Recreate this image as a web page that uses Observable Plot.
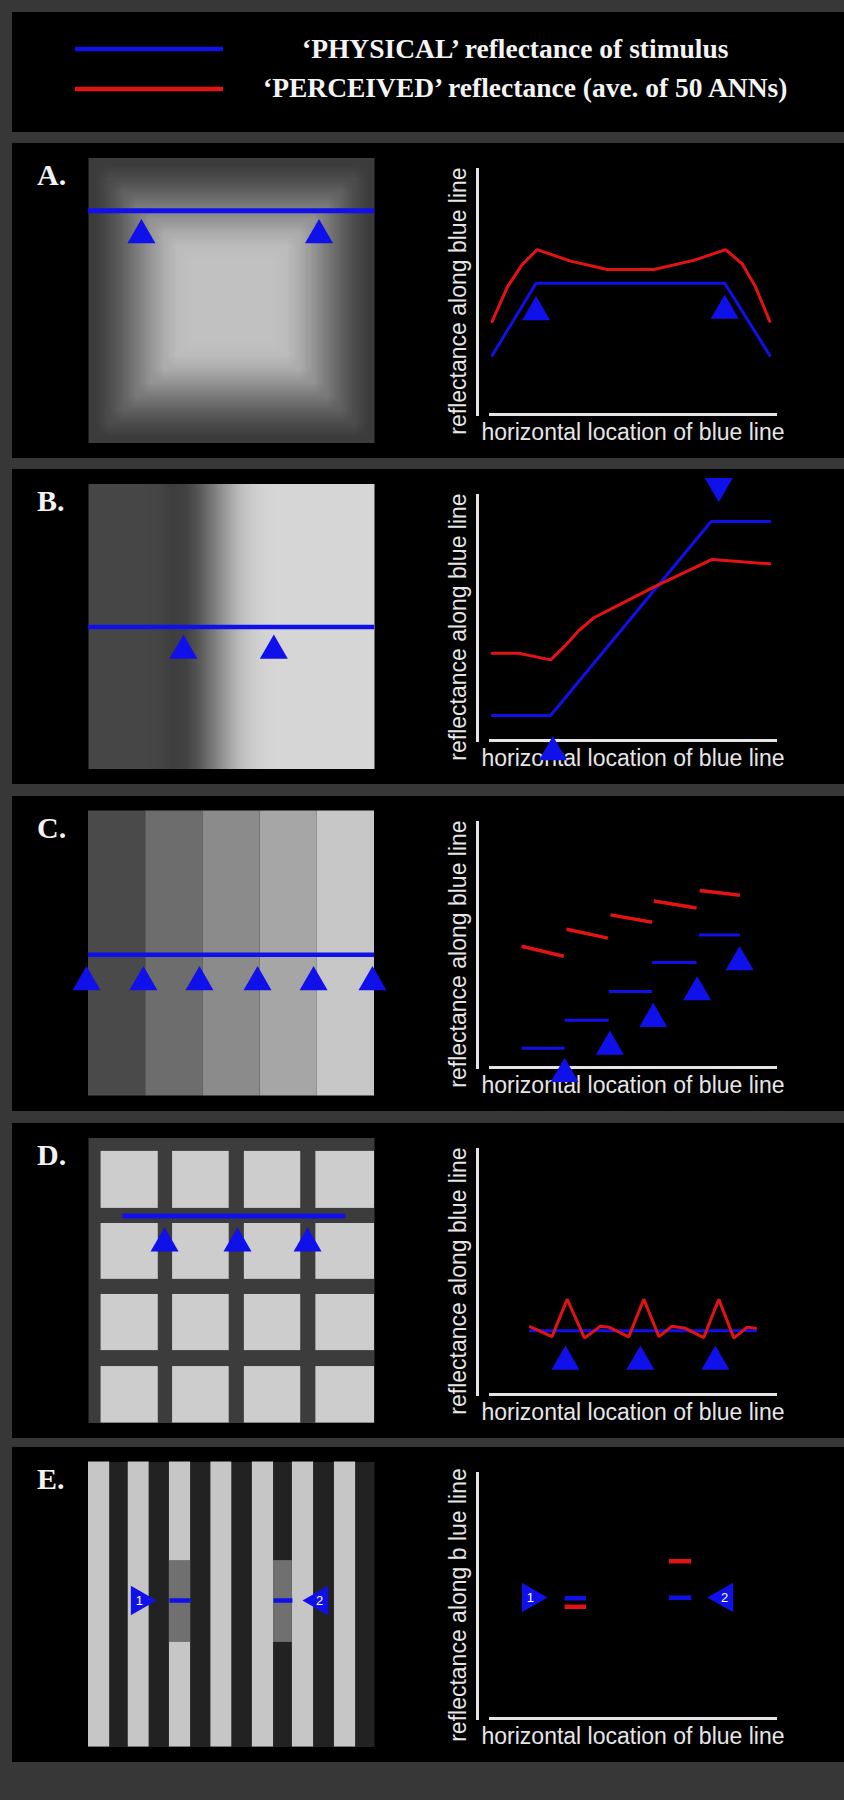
<!DOCTYPE html>
<html><head><meta charset="utf-8">
<script src="https://cdn.jsdelivr.net/npm/d3@7"></script>
<script src="https://cdn.jsdelivr.net/npm/@observablehq/plot@0.6"></script>
<style>
html,body{margin:0;padding:0;background:#373737;}
#root{position:relative;width:844px;height:1800px;background:#373737;overflow:hidden;}
#root svg{max-width:none;}
</style></head><body><div id="root"></div>
<script>
// ---------- text ----------
const headerLines = ["‘PHYSICAL’ reflectance of stimulus", "‘PERCEIVED’ reflectance (ave. of 50 ANNs)"];
const panelLetters = ["A.", "B.", "C.", "D.", "E."];
const yLabels = ["reflectance along blue line", "reflectance along blue line", "reflectance along blue line", "reflectance along blue line", "reflectance along b lue line"];
const xLabel = "horizontal location of blue line";

// ---------- chart A ----------
const aPhysX = [0.6, 16.0, 82.2, 98.0];
const aPhysY = [24.1, 53.6, 53.6, 24.1];
const aPercX = [0.6, 5.9, 11.1, 16.4, 28.1, 41.0, 57.3, 71.3, 82.5, 88.3, 93.0, 98.0];
const aPercY = [38.0, 52.0, 61.2, 67.3, 62.6, 59.2, 59.2, 62.9, 67.3, 61.5, 52.0, 38.0];
const aMarkX = [16.0, 82.2];
const aMarkY = [41.8, 42.4];
// ---------- chart B ----------
const bPhysX = [0.6, 21.1, 77.4, 98.0];
const bPhysY = [10.2, 10.2, 89.4, 89.4];
const bPercX = [0.6, 9.9, 21.1, 26.3, 31.0, 36.3, 46.8, 58.5, 77.8, 98.0];
const bPercY = [35.6, 35.6, 32.9, 38.8, 44.9, 50.1, 56.4, 63.3, 73.9, 72.1];
const bMarkUpX = [21.9], bMarkUpY = [-4.8];
const bMarkDownX = [80.1], bMarkDownY = [103.8];
// ---------- chart C ----------
const cPhysX1 = [10.9, 26.0, 41.5, 56.7, 73.1];
const cPhysX2 = [26.0, 41.5, 56.7, 72.3, 87.5];
const cPhysY  = [7.9, 19.3, 31.0, 42.9, 54.1];
const cPercX1 = [10.9, 26.7, 42.1, 57.3, 73.4];
const cPercY1 = [49.5, 56.4, 62.3, 68.0, 72.2];
const cPercX2 = [25.7, 41.2, 56.7, 72.3, 87.5];
const cPercY2 = [45.4, 52.8, 59.3, 65.1, 70.3];
const cMarkX = [26.0, 41.9, 57.1, 72.5, 87.4];
const cMarkY = [-2.6, 8.5, 19.8, 30.7, 43.0];
// ---------- chart D ----------
const dPhysX = [14.0, 93.0];
const dPhysY = [26.0, 26.0];
const dPercX = [14.0, 21.6, 26.9, 33.0, 38.6, 41.5, 48.5, 53.8, 59.1, 63.7, 68.4, 74.8, 80.1, 85.4, 90.1, 93.0];
const dPercY = [27.6, 23.6, 38.9, 23.0, 27.9, 27.5, 23.5, 38.9, 23.6, 27.9, 27.0, 23.2, 38.9, 23.0, 27.5, 27.0];
const dMarkX = [26.3, 52.6, 78.9];
const dMarkY = [13.4, 13.4, 13.4];
// ---------- chart E ----------
const ePhysX1 = [26.0, 62.6], ePhysX2 = [33.5, 70.4], ePhysY = [49.1, 49.3];
const ePercX1 = [26.0, 62.6], ePercX2 = [33.5, 70.4], ePercY = [45.6, 64.2];
const eMarkX = [14.0, 82.1], eMarkY = [49.4, 49.4], eMarkLabel = ["1", "2"], eMarkDir = ["right", "left"];

// ---------- stimuli (0–100 units across the square) ----------
const aRingGray = [60, 76, 98, 122, 148, 172, 188, 193, 193, 193, 193];
const aLineY = 18.5, aStimMarkX = [18.5, 80.6], aStimMarkY = [27.1, 27.1];
const bColumnGray = [70, 70, 70, 70, 70, 68, 62, 66, 88, 120, 155, 185, 203, 212, 214, 214, 214, 214, 214, 214, 214, 214];
const bLineY = 50.2, bStimMarkX = [33.2, 64.8], bStimMarkY = [58.5, 58.5];
const cStripeEdges = [0, 20, 40, 60, 80, 100];
const cStripeGray = [74, 109, 139, 166, 199];
const cLineY = 50.4, cStimMarkX = [-0.7, 19.2, 38.8, 59.1, 78.7, 99.3], cStimMarkY = 60.1;
const dCols = [[4.4, 24.4], [29.4, 49.2], [54.5, 74.2], [79.5, 100]];
const dRows = [[4.7, 24.7], [30.0, 49.6], [54.9, 74.6], [80.2, 100]];
const dLineX1 = 12.1, dLineX2 = 90.0, dLineY = 27.4;
const dStimMarkX = [26.6, 52.1, 76.6], dStimMarkY = 37.0;
const eBars = [[0, 7.4], [13.9, 21.2], [28.3, 35.7], [42.8, 50.1], [57.3, 64.7], [71.3, 78.7], [86, 93.4]];
const ePatches = [[28.3, 35.7], [64.7, 71.3]], ePatchY = [34.6, 63.3];
const eDashY = 48.6;
const eStimMarkX = [17.8, 80.8], eStimMarkY = 48.6;

// ---------- layout ----------
const panelTops = [143, 469, 796, 1123, 1447];
const BLUE = "#1010ea", RED = "#e31313", AXIS = "#e4e4e4", LABEL = "#e6e6e6";
const SANS = "Liberation Sans, Arial, sans-serif";
const SERIF = "Liberation Serif, Times New Roman, serif";
const gray = v => `rgb(${v},${v},${v})`;
const sq3 = Math.sqrt(3);
const triDown = {draw(c, s) { const y = Math.sqrt(s / (3 * sq3)); c.moveTo(0, 2 * y); c.lineTo(-sq3 * y, -y); c.lineTo(sq3 * y, -y); c.closePath(); }};
const triRight = {draw(c, s) { const y = Math.sqrt(s / (3 * sq3)); c.moveTo(2 * y, 0); c.lineTo(-y, -sq3 * y); c.lineTo(-y, sq3 * y); c.closePath(); }};
const triLeft = {draw(c, s) { const y = Math.sqrt(s / (3 * sq3)); c.moveTo(-2 * y, 0); c.lineTo(y, -sq3 * y); c.lineTo(y, sq3 * y); c.closePath(); }};
const R = 10.4;

const root = document.getElementById("root");
function place(node, left, top) { node.style.position = "absolute"; node.style.left = left + "px"; node.style.top = top + "px"; root.appendChild(node); }
function box(left, top, w, h, bg) { const d = document.createElement("div"); d.style.cssText = `position:absolute;left:${left}px;top:${top}px;width:${w}px;height:${h}px;background:${bg}`; root.appendChild(d); }

box(12, 12, 832, 120, "#000");
panelTops.forEach(t => box(12, t, 832, 315, "#000"));

// header legend
const hs = d3.create("svg").attr("width", 832).attr("height", 120);
hs.append("line").attr("x1", 63).attr("x2", 211).attr("y1", 37).attr("y2", 37).attr("stroke", BLUE).attr("stroke-width", 4.5);
hs.append("line").attr("x1", 63).attr("x2", 211).attr("y1", 77).attr("y2", 77).attr("stroke", RED).attr("stroke-width", 4.5);
hs.append("text").attr("x", 290).attr("y", 46).attr("font-family", SERIF).attr("font-weight", "bold").attr("font-size", 27.5).attr("fill", "#f4f4f4").text(headerLines[0]);
hs.append("text").attr("x", 251).attr("y", 85).attr("font-family", SERIF).attr("font-weight", "bold").attr("font-size", 27.5).attr("fill", "#f4f4f4").text(headerLines[1]);
place(hs.node(), 12, 12);

// panel letters
panelTops.forEach((t, i) => {
  const s = d3.create("svg").attr("width", 60).attr("height", 50);
  s.append("text").attr("x", 2).attr("y", 38).attr("font-family", SERIF).attr("font-weight", "bold").attr("font-size", 30).attr("fill", "#f2f2f2").text(panelLetters[i]);
  place(s.node(), 35, t + 4);
});

function stim(marks) {
  return Plot.plot({
    width: 340, height: 315, marginLeft: 28, marginRight: 26, marginTop: 14.5, marginBottom: 15.5,
    x: {domain: [0, 100], axis: null}, y: {domain: [0, 100], reverse: true, axis: null},
    color: {type: "identity"},
    style: {background: "transparent", overflow: "visible"},
    marks
  });
}
function chart(yLab, marks) {
  return Plot.plot({
    width: 404, height: 315, marginLeft: 37, marginRight: 69, marginTop: 26, marginBottom: 44,
    x: {domain: [0, 100], insetLeft: 13, axis: null}, y: {domain: [0, 100], axis: null},
    style: {background: "transparent", overflow: "visible"},
    marks: [
      Plot.frame({anchor: "left", stroke: AXIS, strokeWidth: 3}),
      Plot.frame({anchor: "bottom", insetLeft: 13, stroke: AXIS, strokeWidth: 3}),
      Plot.text([yLab], {text: d => d, frameAnchor: "left", textAnchor: "middle", lineAnchor: "middle", rotate: -90, dx: -18.4, dy: 9, fontSize: 23, fontFamily: SANS, fill: LABEL}),
      Plot.text([xLabel], {text: d => d, frameAnchor: "bottom", textAnchor: "middle", lineAnchor: "middle", dx: 6.5, dy: 18.6, fontSize: 23, fontFamily: SANS, fill: LABEL}),
      ...marks
    ]
  });
}
const pts = (xs, ys) => xs.map((x, i) => ({x, y: ys[i]}));

// ---------- A ----------
const aPix = [];
for (let i = 0; i <= 20; i++) for (let j = 0; j <= 20; j++) aPix.push(gray(aRingGray[Math.min(i, j, 20 - i, 20 - j)]));
place(stim([
  Plot.raster(aPix, {width: 21, height: 21, x1: 0, y1: 0, x2: 100, y2: 100}),
  Plot.ruleY([aLineY], {stroke: BLUE, strokeWidth: 5}),
  Plot.dot(pts(aStimMarkX, aStimMarkY), {x: "x", y: "y", symbol: "triangle", r: R, fill: BLUE})
]), 60, panelTops[0]);
place(chart(yLabels[0], [
  Plot.line(pts(aPhysX, aPhysY), {x: "x", y: "y", stroke: BLUE, strokeWidth: 3, strokeLinejoin: "miter"}),
  Plot.line(pts(aPercX, aPercY), {x: "x", y: "y", stroke: RED, strokeWidth: 3, strokeLinejoin: "miter"}),
  Plot.dot(pts(aMarkX, aMarkY), {x: "x", y: "y", symbol: "triangle", r: R, fill: BLUE})
]), 440, panelTops[0]);

// ---------- B ----------
place(stim([
  Plot.raster(bColumnGray.map(gray), {width: bColumnGray.length, height: 1, x1: 0, y1: 0, x2: 100, y2: 100}),
  Plot.ruleY([bLineY], {stroke: BLUE, strokeWidth: 4.5}),
  Plot.dot(pts(bStimMarkX, bStimMarkY), {x: "x", y: "y", symbol: "triangle", r: R, fill: BLUE})
]), 60, panelTops[1]);
place(chart(yLabels[1], [
  Plot.line(pts(bPhysX, bPhysY), {x: "x", y: "y", stroke: BLUE, strokeWidth: 3, strokeLinejoin: "miter"}),
  Plot.line(pts(bPercX, bPercY), {x: "x", y: "y", stroke: RED, strokeWidth: 3, strokeLinejoin: "miter"}),
  Plot.dot(pts(bMarkUpX, bMarkUpY), {x: "x", y: "y", symbol: "triangle", r: R, fill: BLUE}),
  Plot.dot(pts(bMarkDownX, bMarkDownY), {x: "x", y: "y", symbol: triDown, r: R, fill: BLUE})
]), 440, panelTops[1]);

// ---------- C ----------
const cStripes = cStripeGray.map((g, i) => ({x1: cStripeEdges[i], x2: cStripeEdges[i + 1], fill: gray(g)}));
place(stim([
  Plot.rect(cStripes, {x1: "x1", x2: "x2", y1: 0, y2: 100, fill: "fill"}),
  Plot.ruleY([cLineY], {stroke: BLUE, strokeWidth: 4.5}),
  Plot.dot(cStimMarkX, {x: d => d, y: () => cStimMarkY, symbol: "triangle", r: R, fill: BLUE})
]), 60, panelTops[2]);
place(chart(yLabels[2], [
  Plot.link(cPhysX1.map((x1, i) => ({x1, x2: cPhysX2[i], y: cPhysY[i]})), {x1: "x1", x2: "x2", y1: "y", y2: "y", stroke: BLUE, strokeWidth: 3}),
  Plot.link(cPercX1.map((x1, i) => ({x1, y1: cPercY1[i], x2: cPercX2[i], y2: cPercY2[i]})), {x1: "x1", y1: "y1", x2: "x2", y2: "y2", stroke: RED, strokeWidth: 3.5}),
  Plot.dot(pts(cMarkX, cMarkY), {x: "x", y: "y", symbol: "triangle", r: R, fill: BLUE})
]), 440, panelTops[2]);

// ---------- D ----------
const dCells = dRows.flatMap(r => dCols.map(c => ({x1: c[0], x2: c[1], y1: r[0], y2: r[1]})));
place(stim([
  Plot.frame({fill: "#3c3c3c"}),
  Plot.rect(dCells, {x1: "x1", x2: "x2", y1: "y1", y2: "y2", fill: "#cdcdcd"}),
  Plot.ruleY([dLineY], {x1: dLineX1, x2: dLineX2, stroke: BLUE, strokeWidth: 5}),
  Plot.dot(dStimMarkX, {x: d => d, y: () => dStimMarkY, symbol: "triangle", r: R, fill: BLUE})
]), 60, panelTops[3]);
place(chart(yLabels[3], [
  Plot.line(pts(dPhysX, dPhysY), {x: "x", y: "y", stroke: BLUE, strokeWidth: 3}),
  Plot.line(pts(dPercX, dPercY), {x: "x", y: "y", stroke: RED, strokeWidth: 3, strokeLinejoin: "miter"}),
  Plot.dot(pts(dMarkX, dMarkY), {x: "x", y: "y", symbol: "triangle", r: R, fill: BLUE})
]), 440, panelTops[3]);

// ---------- E ----------
const symFor = d => d === "right" ? triRight : triLeft;
place(stim([
  Plot.frame({fill: "#222222"}),
  Plot.rect(eBars, {x1: d => d[0], x2: d => d[1], y1: 0, y2: 100, fill: "#c6c6c6"}),
  Plot.rect(ePatches, {x1: d => d[0], x2: d => d[1], y1: ePatchY[0], y2: ePatchY[1], fill: "#707070"}),
  Plot.link(ePatches, {x1: d => d[0], x2: d => d[1], y1: eDashY, y2: eDashY, stroke: BLUE, strokeWidth: 4.5}),
  Plot.dot(eStimMarkX.map((x, i) => ({x, dir: eMarkDir[i]})), {x: "x", y: () => eStimMarkY, symbol: d => symFor(d.dir), r: R + 0.6, fill: BLUE}),
  Plot.text(eStimMarkX.map((x, i) => ({x, label: eMarkLabel[i]})), {x: "x", y: () => eStimMarkY, text: "label", fill: "white", fontSize: 13, fontFamily: "Liberation Sans Narrow, Liberation Sans, sans-serif"})
]), 60, panelTops[4]);
place(chart(yLabels[4], [
  Plot.link(ePhysX1.map((x1, i) => ({x1, x2: ePhysX2[i], y: ePhysY[i]})), {x1: "x1", x2: "x2", y1: "y", y2: "y", stroke: BLUE, strokeWidth: 4.5}),
  Plot.link(ePercX1.map((x1, i) => ({x1, x2: ePercX2[i], y: ePercY[i]})), {x1: "x1", x2: "x2", y1: "y", y2: "y", stroke: RED, strokeWidth: 4.5}),
  Plot.dot(eMarkX.map((x, i) => ({x, y: eMarkY[i], dir: eMarkDir[i]})), {x: "x", y: "y", symbol: d => symFor(d.dir), r: R + 0.6, fill: BLUE}),
  Plot.text(eMarkX.map((x, i) => ({x, y: eMarkY[i], label: eMarkLabel[i]})), {x: "x", y: "y", text: "label", fill: "white", fontSize: 13, fontFamily: "Liberation Sans Narrow, Liberation Sans, sans-serif"})
]), 440, panelTops[4]);
</script></body></html>
